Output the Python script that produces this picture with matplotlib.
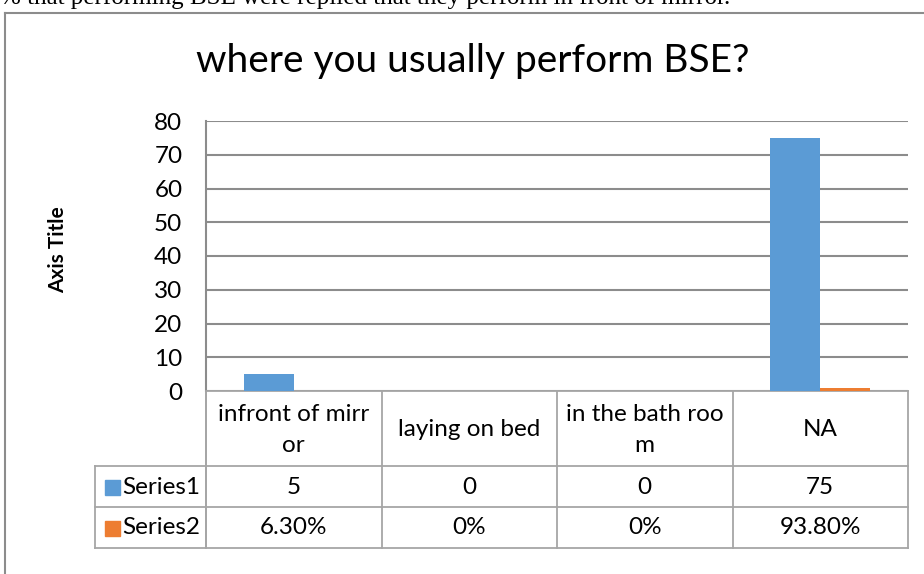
import numpy as np
import matplotlib.pyplot as plt
from matplotlib.transforms import blended_transform_factory

# data
categories = ["infront of mirr\nor", "laying on bed", "in the bath roo\nm", "NA"]
series1 = [5, 0, 0, 75]
series2 = [0.063, 0.0, 0.0, 0.938]
series2_labels = ["6.30%", "0%", "0%", "93.80%"]
series_names = ["Series1", "Series2"]
yticks = [0, 10, 20, 30, 40, 50, 60, 70, 80]

BLUE = "#5B9BD5"
ORANGE = "#ED7D31"
GRID = "#8C8C8C"
TABLE = "#A6A6A6"
FONT = ["Lato", "DejaVu Sans"]
FS = 17.5

W, H = 924, 574
fig = plt.figure(figsize=(W / 100, H / 100), dpi=100)


def fx(px):
    return px / W


def fy(py):
    return 1 - py / H


# plot area
ax = fig.add_axes([fx(206), fy(391), fx(908) - fx(206), fy(121) - fy(391)])
x = np.arange(len(categories))
bw = 50 / 175.5
ax.bar(x - bw / 2, series1, bw, color=BLUE, zorder=3)
ax.bar(x + bw / 2, series2, bw, color=ORANGE, zorder=3)
ax.set_xlim(-0.5, len(categories) - 0.5)
ax.set_ylim(0, 80)
ax.set_yticks(yticks)
ax.set_xticks([])
ax.tick_params(axis="y", length=0, pad=17, labelsize=FS)
for lab in ax.get_yticklabels():
    lab.set_fontfamily(FONT)
ax.yaxis.grid(True, color=GRID, linewidth=1.5, zorder=0)
for s in ["top", "right", "bottom"]:
    ax.spines[s].set_visible(False)
ax.spines["left"].set_color(GRID)
ax.spines["left"].set_linewidth(1.5)

# data table below the axis
tr = blended_transform_factory(ax.transData, fig.transFigure)
row_y = [391, 466, 507, 548]
edges = np.arange(len(categories) + 1) - 0.5
lw = 1.3
ax.plot([edges[0], edges[-1]], [fy(391)] * 2, transform=tr, color=TABLE, lw=lw, clip_on=False)
for yy in row_y[1:]:
    fig.add_artist(plt.Line2D([fx(95), fx(908)], [fy(yy)] * 2, color=TABLE, lw=lw))
for e in edges:
    ax.plot([e, e], [fy(391), fy(548)], transform=tr, color=TABLE, lw=lw, clip_on=False)
fig.add_artist(plt.Line2D([fx(95)] * 2, [fy(466), fy(548)], color=TABLE, lw=lw))
fig.add_artist(plt.Line2D([fx(206)] * 2, [fy(391), fy(548)], color=TABLE, lw=lw))

for i, c in enumerate(categories):
    ax.text(i, fy(430), c, transform=tr, ha="center", va="center", fontsize=FS,
            family=FONT, linespacing=1.6)
    ax.text(i, fy(487), str(series1[i]), transform=tr, ha="center", va="center",
            fontsize=FS, family=FONT)
    ax.text(i, fy(528), series2_labels[i], transform=tr, ha="center", va="center",
            fontsize=FS, family=FONT)

for name, col, yc in zip(series_names, [BLUE, ORANGE], [487, 528]):
    fig.add_artist(plt.Rectangle((fx(105), fy(yc + 7.5)), fx(15), fy(yc - 7.5) - fy(yc + 7.5),
                                 color=col, transform=fig.transFigure))
    fig.text(fx(122), fy(yc), name, ha="left", va="center", fontsize=FS, family=FONT)

# titles
fig.text(fx(473), fy(61), "where you usually perform BSE?", ha="center", va="center",
         fontsize=28, family=FONT)
fig.text(fx(58), fy(250), "Axis Title", ha="center", va="center", rotation=90,
         fontsize=15, fontweight="bold", family=FONT)

# chart border and cut-off line of text above
fig.add_artist(plt.Line2D([fx(5), fx(5)], [fy(12.5), 0], color="#8C8C8C", lw=1.5))
fig.add_artist(plt.Line2D([fx(5), 1], [fy(12.5), fy(12.5)], color="#8C8C8C", lw=1.5))
fig.text(0, fy(4), "% that performing BSE were replied that they perform in front of mirror.",
         ha="left", va="baseline", fontsize=18, family="Liberation Serif")

fig.savefig("out.png", dpi=100)
